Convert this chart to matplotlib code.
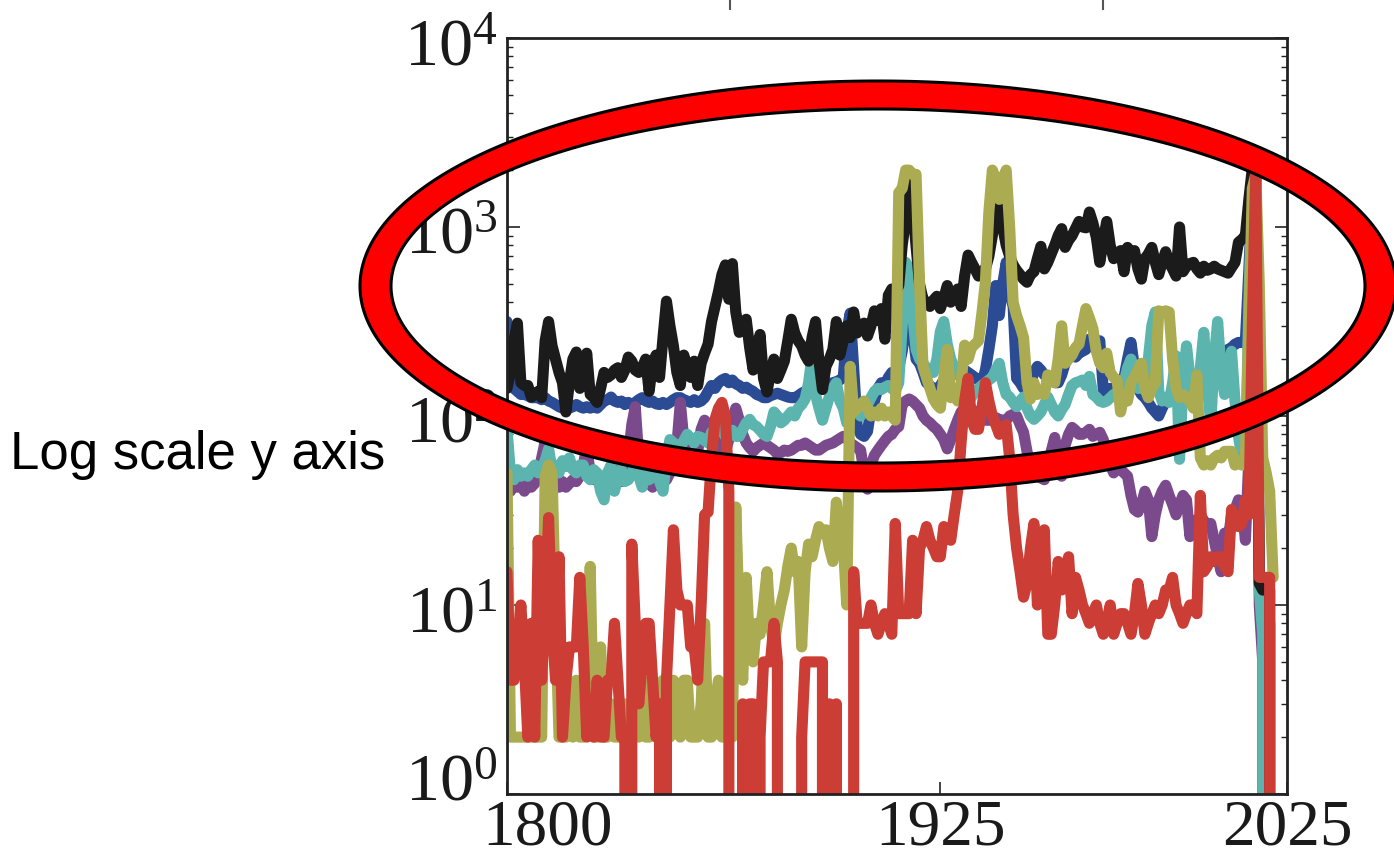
import numpy as np
import matplotlib
matplotlib.use("Agg")
import matplotlib.pyplot as plt
from matplotlib.path import Path
from matplotlib.patches import PathPatch
from matplotlib.lines import Line2D
from matplotlib.transforms import ScaledTranslation

plt.rcParams['mathtext.fontset'] = 'custom'
plt.rcParams['mathtext.rm'] = 'Liberation Serif'
plt.rcParams['mathtext.it'] = 'Liberation Serif:italic'

years = list(range(1800, 2022))

black = [140, 170, 250, 310, 150, 145, 145, 126, 130, 135, 125, 250, 316, 235, 200, 170, 150, 105, 150, 200,
         218, 140, 170, 215, 130, 125, 118, 140, 170, 160, 165, 175, 180, 160, 175, 205, 195, 175, 170, 180,
         200, 135, 190, 210, 160, 260, 405, 300, 235, 170, 145, 210, 175, 160, 195, 145, 190, 215, 240, 316,
         380, 455, 560, 630, 415, 640, 355, 277, 290, 325, 230, 175, 220, 270, 158, 134, 170, 200, 158, 175,
         195, 250, 325, 275, 250, 235, 210, 195, 260, 316, 195, 138, 183, 200, 225, 316, 210, 250, 300, 260,
         355, 275, 290, 310, 265, 300, 360, 320, 370, 255, 435, 470, 450, 490, 800, 1100, 1740, 1300, 790, 500,
         415, 400, 380, 410, 430, 370, 420, 490, 400, 430, 470, 380, 550, 710, 650, 600, 550, 580, 600, 700,
         900, 1200, 1290, 1000, 800, 700, 630, 590, 560, 530, 510, 560, 580, 680, 790, 600, 650, 720, 800, 900,
         980, 780, 850, 900, 980, 1070, 1000, 990, 1200, 1050, 880, 650, 850, 1070, 800, 680, 720, 750, 580, 780,
         720, 750, 600, 530, 680, 720, 780, 650, 560, 650, 740, 650, 600, 550, 1000, 580, 620, 640, 650, 600,
         570, 620, 590, 600, 620, 600, 590, 580, 570, 610, 650, 830, 860, 900, 1400, 2050, 1500, 13, 12, 12,
         12, 0]

blue = [316, 150, 140, 135, 130, 130, 128, 125, 125, 125, 122, 125, 120, 118, 115, 112, 110, 112, 110, 112,
        115, 112, 110, 112, 110, 112, 110, 115, 120, 122, 126, 120, 118, 120, 115, 118, 115, 118, 122, 125,
        120, 118, 120, 116, 115, 118, 115, 118, 122, 125, 125, 122, 120, 118, 122, 118, 120, 125, 135, 145,
        140, 150, 155, 158, 150, 155, 148, 145, 140, 142, 138, 135, 130, 128, 125, 125, 128, 130, 132, 130,
        128, 126, 125, 125, 128, 132, 135, 138, 145, 150, 148, 145, 145, 148, 150, 152, 155, 160, 280, 350,
        180, 89, 80, 78, 83, 110, 120, 140, 150, 145, 160, 170, 165, 180, 220, 300, 380, 280, 200, 190,
        170, 150, 145, 140, 138, 145, 155, 162, 170, 175, 180, 183, 175, 170, 165, 160, 155, 150, 175, 225,
        300, 490, 340, 500, 650, 450, 380, 158, 150, 140, 138, 150, 170, 183, 175, 165, 162, 155, 150, 150,
        165, 190, 210, 218, 205, 215, 220, 225, 255, 240, 230, 250, 138, 130, 140, 135, 130, 138, 160, 200,
        245, 180, 140, 130, 125, 118, 110, 105, 100, 110, 120, 125, 120, 118, 115, 120, 125, 130, 128, 135,
        140, 140, 150, 160, 165, 170, 185, 200, 225, 230, 240, 245, 245, 250, 600, 1500, 1800, 15, 12, 10,
        8, 0]

teal = [85, 50, 46, 52, 48, 50, 48, 52, 55, 50, 52, 58, 67, 52, 55, 50, 58, 54, 60, 52,
        50, 55, 55, 48, 46, 52, 50, 40, 36, 50, 55, 40, 48, 52, 45, 46, 50, 55, 48, 42,
        50, 46, 48, 52, 45, 40, 60, 75, 72, 70, 68, 74, 80, 76, 72, 78, 77, 74, 72, 82,
        85, 89, 84, 78, 80, 84, 78, 78, 85, 92, 96, 90, 88, 84, 80, 78, 88, 105, 100, 92,
        95, 100, 105, 100, 110, 115, 123, 150, 208, 130, 110, 95, 110, 127, 140, 150, 120, 110, 92, 100,
        108, 105, 100, 108, 115, 125, 135, 140, 138, 142, 145, 140, 135, 150, 300, 650, 600, 350, 225, 200,
        190, 180, 175, 170, 200, 280, 316, 240, 200, 180, 165, 160, 140, 130, 126, 135, 140, 145, 150, 155,
        160, 175, 190, 150, 130, 126, 118, 112, 120, 126, 110, 100, 96, 100, 105, 115, 126, 115, 105, 100,
        108, 115, 130, 145, 150, 152, 155, 145, 162, 130, 126, 120, 118, 120, 125, 130, 132, 138, 150, 180,
        200, 170, 140, 140, 150, 200, 300, 355, 135, 120, 125, 118, 150, 208, 59, 150, 235, 160, 120, 110,
        180, 277, 150, 90, 200, 316, 170, 130, 180, 220, 120, 78, 60, 55, 400, 1700, 1200, 12, 7, 0,
        0, 0]

purple = [42, 40, 44, 42, 45, 40, 43, 42, 44, 48, 60, 73, 50, 42, 44, 42, 45, 42, 44, 46,
          45, 48, 55, 68, 50, 46, 48, 44, 46, 50, 52, 52, 48, 45, 50, 60, 90, 112, 60, 48,
          46, 44, 42, 45, 46, 48, 46, 50, 52, 70, 118, 75, 60, 55, 58, 65, 85, 95, 90, 80,
          76, 72, 68, 65, 75, 95, 110, 95, 80, 72, 68, 65, 68, 70, 72, 70, 68, 66, 63, 64,
          66, 65, 66, 68, 70, 70, 72, 70, 68, 66, 66, 68, 70, 71, 72, 74, 76, 78, 76, 72,
          70, 68, 66, 50, 41, 55, 62, 66, 70, 74, 78, 80, 85, 88, 115, 120, 123, 120, 115, 110,
          100, 95, 92, 88, 85, 80, 75, 67, 75, 85, 95, 105, 110, 112, 108, 106, 105, 100, 95, 95,
          95, 98, 96, 95, 95, 100, 102, 100, 90, 82, 65, 52, 48, 50, 47, 46, 55, 65, 77, 60,
          48, 70, 80, 87, 84, 80, 80, 82, 85, 78, 80, 82, 75, 65, 55, 50, 55, 52, 50, 48,
          38, 32, 31, 34, 40, 36, 23, 30, 36, 40, 43, 38, 34, 30, 34, 38, 36, 23, 28, 25,
          30, 28, 26, 27, 22, 18, 15, 24, 22, 30, 32, 36, 34, 22, 60, 600, 1000, 10, 5, 0,
          0, 0]

olive = [50, 2, 2, 2, 2, 2, 2, 2, 2, 2, 2, 48, 55, 50, 9, 2, 2, 2, 3, 2,
         4, 2, 2, 4, 16, 2, 2, 6, 2, 2, 3, 2, 2, 2, 3, 2, 2, 3, 2, 4,
         2, 2, 3, 3, 2, 4, 2, 2, 4, 3, 2, 4, 4, 2, 2, 2, 3, 8, 2, 2,
         3, 4, 2, 2, 2, 2, 33, 8, 4, 14, 6, 5, 8, 7, 10, 15, 8, 6, 8, 10,
         12, 16, 20, 15, 17, 6, 15, 21, 18, 22, 26, 24, 25, 20, 17, 35, 25, 21, 10, 183,
         105, 110, 115, 120, 110, 100, 105, 100, 110, 100, 105, 100, 95, 1520, 1600, 2000, 2000, 1900, 1900, 510,
         183, 160, 140, 123, 115, 110, 160, 225, 125, 130, 120, 150, 237, 200, 230, 240, 250, 350, 510, 1200,
         2000, 1800, 1400, 1800, 2000, 1000, 400, 340, 300, 260, 150, 123, 150, 130, 135, 130, 165, 160, 150, 200,
         300, 190, 200, 210, 230, 240, 300, 370, 330, 290, 220, 190, 180, 215, 170, 160, 155, 105, 130, 120,
         150, 160, 175, 190, 140, 125, 140, 150, 360, 355, 360, 355, 200, 140, 125, 130, 125, 120, 110, 165,
         60, 55, 58, 55, 60, 62, 60, 65, 65, 65, 55, 58, 55, 60, 300, 1600, 1900, 500, 60, 50,
         40, 14]

red = [15, 4, 4, 6, 10, 5, 2, 8, 2, 22, 4, 10, 29, 8, 4, 18, 2, 4, 6, 6,
       6, 14, 6, 2, 3, 2, 4, 2, 2, 4, 4, 8, 4, 2, 2, 0, 21, 8, 3, 5,
       8, 8, 4, 2, 3, 0, 4, 10, 25, 12, 10, 10, 10, 6, 6, 4, 10, 30, 31, 60,
       96, 110, 118, 100, 40, 0, 0, 0, 3, 0, 3, 3, 0, 2, 5, 5, 5, 8, 5, 0,
       0, 0, 0, 0, 0, 2, 5, 5, 5, 5, 5, 5, 0, 3, 0, 3, 0, 0, 0, 0,
       15, 8, 8, 8, 8, 10, 8, 7, 8, 9, 8, 7, 27, 9, 9, 9, 9, 22, 9, 20,
       22, 26, 22, 20, 18, 18, 26, 24, 22, 30, 40, 73, 120, 158, 95, 85, 85, 110, 150, 120,
       100, 90, 80, 85, 90, 60, 30, 20, 15, 11, 13, 20, 27, 10, 18, 25, 7, 7, 10, 17,
       12, 15, 18, 9, 14, 12, 10, 9, 8, 9, 10, 8, 7, 8, 10, 7, 8, 9, 9, 8,
       7, 9, 13, 10, 7, 8, 9, 10, 9, 10, 12, 12, 14, 10, 9, 8, 9, 10, 10, 9,
       38, 15, 16, 18, 17, 18, 18, 16, 15, 32, 28, 26, 27, 36, 30, 300, 2000, 14, 14, 14,
       14, 0]

series = [
    (blue, '#2b4c94'),
    (purple, '#7a4a8c'),
    (teal, '#5bb4ad'),
    (black, '#1b1b1b'),
    (olive, '#abab52'),
    (red, '#cc3e35'),
]

W, H = 1394, 862
fig = plt.figure(figsize=(W / 100, H / 100), dpi=100)
ax = fig.add_axes([507 / W, 1 - 795 / H, (1287 - 507) / W, (795 - 39) / H])

for vals, col in series:
    ax.plot(years, vals, color=col, lw=8.0, solid_joinstyle='round', solid_capstyle='round')

ax.set_yscale('log', nonpositive='clip')
ax.set_ylim(1, 1e4)
ax.set_xlim(1800, 2025)

serif = 'Liberation Serif'
ax.set_xticks([1800, 1925, 2025])
ax.set_xticklabels(['1800', '1925', '2025'], fontsize=47, family=serif)
ax.set_yticks([1, 10, 100, 1000, 10000])
ax.set_yticklabels([r'$10^{0}$', r'$10^{1}$', r'$10^{2}$', r'$10^{3}$', r'$10^{4}$'], fontsize=49)
ax.tick_params(axis='both', which='major', direction='in', length=9, width=1.2, color='#222222',
               labelcolor='#1a1a1a')
ax.tick_params(axis='y', which='major', pad=7, right=True, length=9)
ax.tick_params(axis='y', which='minor', direction='in', length=4.5, width=1.0, right=True, color='#222222')
ax.tick_params(axis='x', which='major', pad=3)
ax.minorticks_on()
ax.tick_params(axis='x', which='minor', bottom=False, top=False)
for s in ax.spines.values():
    s.set_linewidth(2.0)
    s.set_color('#222222')

# tick label nudges as in the reference
xl = ax.get_xticklabels()
xl[0].set_transform(xl[0].get_transform() + ScaledTranslation(40 / 100, 0, fig.dpi_scale_trans))
yl = ax.get_yticklabels()
yl[0].set_transform(yl[0].get_transform() + ScaledTranslation(0, 20 / 100, fig.dpi_scale_trans))

# ticks of panel above (cropped)
for xp in (730, 1103):
    fig.add_artist(Line2D([xp / W, xp / W], [1.0, 1 - 10 / H], color='#555555', lw=1.5,
                          transform=fig.transFigure))

fig.text(10 / W, 1 - 455 / H, 'Log scale y axis', fontsize=38, family='Liberation Sans',
         ha='left', va='center', color='black')

# red ring annotation
cx, cy = 878, 287
t = np.linspace(0, 2 * np.pi, 400)
ao, bo = 518, 205
ai, bi = 487, 177
outer = np.column_stack([(cx + ao * np.cos(t)) / W, 1 - (cy + bo * np.sin(t)) / H])
inner = np.column_stack([(cx + ai * np.cos(t[::-1])) / W, 1 - (cy + bi * np.sin(t[::-1])) / H])
verts = np.concatenate([outer, inner])
codes = ([Path.MOVETO] + [Path.LINETO] * (len(outer) - 2) + [Path.CLOSEPOLY]) * 2
ring = PathPatch(Path(verts, codes), facecolor='#ff0000', edgecolor='black', lw=2.2,
                 transform=fig.transFigure, zorder=5)
fig.add_artist(ring)

fig.savefig('out.png', dpi=100)
